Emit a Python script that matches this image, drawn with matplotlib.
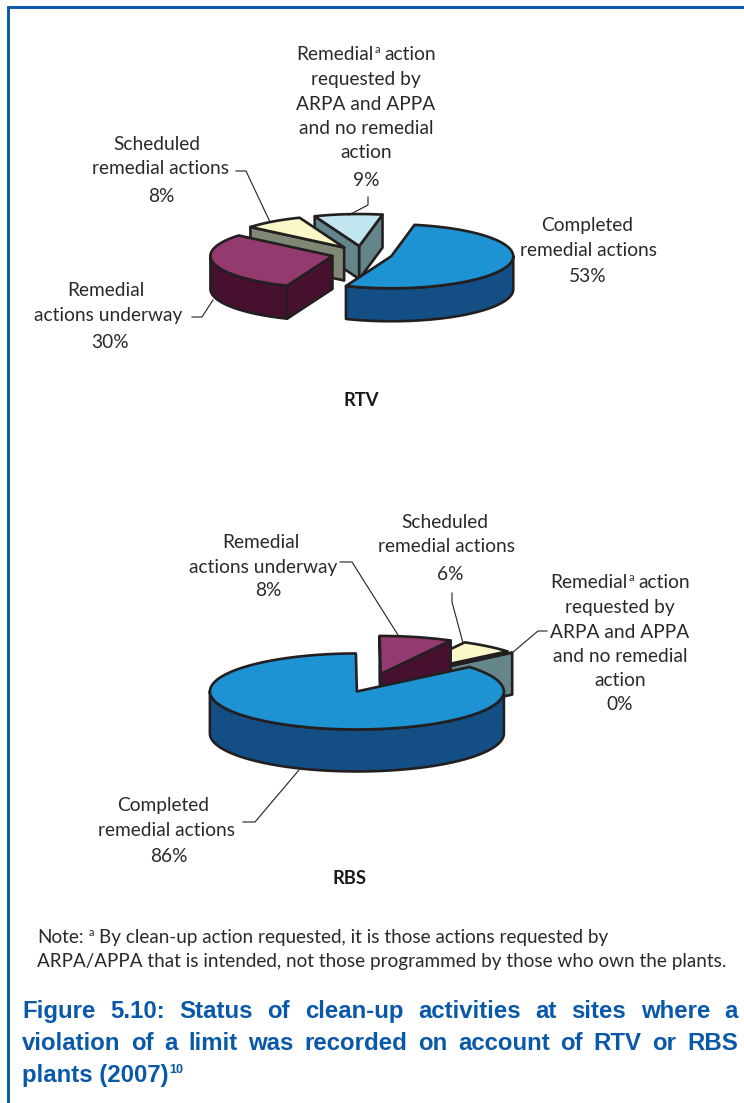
import numpy as np
import matplotlib
matplotlib.use('Agg')
import matplotlib.pyplot as plt
from matplotlib.patches import Polygon

plt.rcParams['font.family'] = ['Lato', 'DejaVu Sans']

# slice order is the clockwise order round each pie
rtv_values = [53, 30, 8, 9]
rbs_values = [86, 8, 6, 0]
top_colors = ['#1e93d3', '#943a6e', '#faf8c8', '#c2e6f0']
side_colors = ['#134e84', '#47102f', '#7e8874', '#64868a']

title_lines = ['Figure 5.10: Status of clean-up activities at sites where a',
               'violation of a limit was recorded on account of RTV or RBS']
note_line = 'ARPA/APPA that is intended, not those programmed by those who own the plants.'

INK = '#231f20'
BLUE = '#0a58a8'
LABEL = '#2b2a29'
LABEL_SIZE = 13.8

fig = plt.figure(figsize=(7.44, 11.03), dpi=100)
ax = fig.add_axes([0, 0, 1, 1])
ax.set_xlim(0, 744)
ax.set_ylim(1103, 0)
ax.axis('off')
renderer = fig.canvas.get_renderer()


def rim(cx, cy, rx, ry, a0, a1, n=80):
    # angles are clockwise from twelve o'clock, in degrees
    t = np.radians(np.linspace(a0, a1, n))
    return np.column_stack([cx + rx * np.sin(t), cy - ry * np.cos(t)])


def face(pts, color, lw=1.9):
    ax.add_patch(Polygon(pts, closed=True, facecolor=color, edgecolor=INK,
                         linewidth=lw, joinstyle='round'))


def pie3d(values, start, cx, cy, rx, ry, depth, explode, order):
    angles = start + np.cumsum([0] + [v * 3.6 for v in values])
    # order runs back to front so the near slices paint over the far ones
    for i in order:
        a0, a1 = angles[i], angles[i + 1]
        mid = np.radians((a0 + a1) / 2)
        x = cx + explode * rx * np.sin(mid)
        y = cy - explode * ry * np.cos(mid)
        drop = np.array([0, depth])
        apex = np.array([x, y])

        # cut faces, only where they turn towards the viewer
        for a, visible in ((a0, np.sin(np.radians(a0)) < -1e-6),
                           (a1, np.sin(np.radians(a1)) > 1e-6)):
            if visible:
                p = rim(x, y, rx, ry, a, a, 1)[0]
                face([apex, p, p + drop, apex + drop], side_colors[i])

        # outer wall exists on the near half only
        for k in (0, 360):
            lo, hi = max(a0, 90 + k), min(a1, 270 + k)
            if hi > lo:
                arc = rim(x, y, rx, ry, lo, hi)
                face(np.vstack([arc, (arc + drop)[::-1]]), side_colors[i])

        top = np.vstack([[apex], rim(x, y, rx, ry, a0, a1)])
        face(top, top_colors[i])


def label(x, y, s, **kw):
    kw.setdefault('fontsize', LABEL_SIZE)
    kw.setdefault('color', LABEL)
    ax.text(x, y, s, ha=kw.pop('ha', 'center'), va='center', **kw)


def leader(xs, ys):
    ax.plot(xs, ys, color=INK, lw=0.8, solid_joinstyle='miter')


def width_of(t):
    return t.get_window_extent(renderer).width


def sup_run(x, base, parts, size, centered=False):
    # parts: (text, raised?, gap after); laid out left to right on one baseline
    items = []
    for s, raised, gap in parts:
        fs = size * 0.58 if raised else size
        t = ax.text(0, base - 7 if raised else base, s, fontsize=fs, color=LABEL,
                    ha='left', va='baseline')
        items.append((t, gap))
    total = sum(width_of(t) + g for t, g in items)
    cur = x - total / 2 if centered else x
    for t, g in items:
        t.set_x(cur)
        cur += width_of(t) + g


def justified(line, x0, x1, y, **kw):
    words = line.split(' ')
    items = [ax.text(0, y, w, va='baseline', ha='left', **kw) for w in words]
    widths = [width_of(t) for t in items]
    gap = (x1 - x0 - sum(widths)) / (len(words) - 1)
    x = x0
    for t, w in zip(items, widths):
        t.set_x(x)
        x += w + gap


# page frame
ax.plot([8, 8, 744], [1103, 6.5, 6.5], color=BLUE, lw=2.1, solid_joinstyle='miter')

pie3d(rtv_values, 11, 362, 254, 122, 32, 33, 0.25, [3, 2, 1, 0])
pie3d(rbs_values, 50, 372, 683, 147, 38, 42, 0.245, [2, 3, 1, 0])

remedial_head = [('Remedial', False, 1), ('a', True, 4), ('action', False, 0)]

# RTV labels
sup_run(366, 60, remedial_head, LABEL_SIZE, centered=True)
for s, y in (('requested by', 79), ('ARPA and APPA', 104),
             ('and no remedial', 128), ('action', 152)):
    label(366, y, s)
label(366, 180, '%d%%' % rtv_values[3])
label(157, 145, 'Scheduled')
label(160, 169, 'remedial actions')
label(161, 197, '%d%%' % rtv_values[2])
label(587, 225, 'Completed')
label(588, 250, 'remedial actions')
label(588, 277, '%d%%' % rtv_values[0])
label(106, 291, 'Remedial')
label(108, 316, 'actions underway')
label(110, 343, '%d%%' % rtv_values[1])
label(361, 401, 'RTV', fontweight='bold', fontsize=13.2, color='#1a1a1a')

leader([368, 368, 349], [197, 205, 215])
leader([236, 246, 270], [171, 171, 222])
leader([192, 202, 213], [317, 317, 300])

# RBS labels
label(445, 522, 'Scheduled')
label(447, 546, 'remedial actions')
label(450, 575, '%d%%' % rbs_values[2])
label(261, 543, 'Remedial')
label(263, 568, 'actions underway')
label(268, 591, '%d%%' % rbs_values[1])
sup_run(620, 588, remedial_head, LABEL_SIZE, centered=True)
for s, y in (('requested by', 607), ('ARPA and APPA', 632),
             ('and no remedial', 656), ('action', 680)):
    label(620, y, s)
label(620, 705, '%d%%' % rbs_values[3])
label(163, 806, 'Completed')
label(166, 830, 'remedial actions')
label(169, 856, '%d%%' % rbs_values[0])
label(349, 878, 'RBS', fontweight='bold', fontsize=13.2, color='#1a1a1a')

leader([340, 352, 398], [562, 562, 635])
leader([452, 452, 463], [593, 602, 643])
leader([547, 538, 512], [631, 631, 653])
leader([243, 255, 299], [822, 822, 770])

# note and caption
sup_run(37, 943, [('Note:', False, 5), ('a', True, 5),
                  ('By clean-up action requested, it is those actions requested by', False, 0)], 13.6)
label(37, 961, note_line, ha='left', fontsize=13.6)

cap = dict(fontsize=17.3, fontweight='bold', color=BLUE, family='Liberation Sans')
justified(title_lines[0], 22, 738, 1018, **cap)
justified(title_lines[1], 22, 738, 1050, **cap)
plants = ax.text(22, 1082, 'plants (2007)', va='baseline', ha='left', **cap)
ax.text(22 + width_of(plants) + 1, 1073, '10', va='baseline', ha='left', fontsize=9,
        fontweight='bold', color=BLUE, family='Liberation Sans')

fig.savefig('out.png', dpi=100)
